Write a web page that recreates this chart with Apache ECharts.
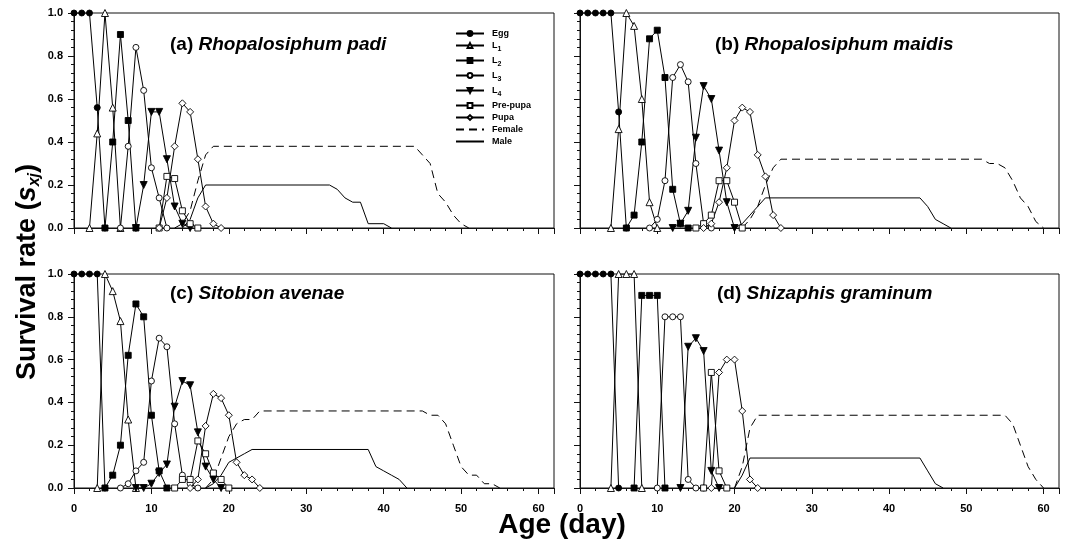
<!DOCTYPE html>
<html><head><meta charset="utf-8">
<script src="https://cdn.jsdelivr.net/npm/echarts@6/dist/echarts.min.js"></script>
<style>html,body{margin:0;padding:0;background:#fff}#c{width:1070px;height:544px}</style>
</head><body><div id="c"></div>
<script>
// ---------- data: [age (day), survival rate] ----------
// (a) Rhopalosiphum padi
const aEgg    = [[0,1],[1,1],[2,1],[3,0.56],[4,0]];
const aL1     = [[2,0],[3,0.44],[4,1],[5,0.56],[6,0]];
const aL2     = [[4,0],[5,0.4],[6,0.9],[7,0.5],[8,0]];
const aL3     = [[6,0],[7,0.38],[8,0.84],[9,0.64],[10,0.28],[11,0.14],[12,0]];
const aL4     = [[8,0],[9,0.2],[10,0.54],[11,0.54],[12,0.32],[13,0.1],[14,0.02],[15,0]];
const aPre    = [[11,0],[12,0.24],[13,0.23],[14,0.08],[15,0.02],[16,0]];
const aPupa   = [[11,0],[12,0.14],[13,0.38],[14,0.58],[15,0.54],[16,0.32],[17,0.1],[18,0.02],[19,0]];
const aFemale = [[13,0],[14,0.02],[15,0.08],[16,0.22],[17,0.34],[18,0.38],[44,0.38],[45,0.34],[46,0.3],[47,0.16],[48,0.12],[49,0.06],[50,0.02],[51,0]];
const aMale   = [[14,0],[15,0.04],[16,0.14],[17,0.2],[33,0.2],[34,0.18],[35,0.14],[36,0.12],[37,0.12],[38,0.02],[40,0.02],[41,0]];
// (b) Rhopalosiphum maidis
const bEgg    = [[0,1],[1,1],[2,1],[3,1],[4,1],[5,0.54],[6,0]];
const bL1     = [[4,0],[5,0.46],[6,1],[7,0.94],[8,0.6],[9,0.12],[10,0]];
const bL2     = [[6,0],[7,0.06],[8,0.4],[9,0.88],[10,0.92],[11,0.7],[12,0.18],[13,0.02],[14,0]];
const bL3     = [[9,0],[10,0.04],[11,0.22],[12,0.7],[13,0.76],[14,0.68],[15,0.3],[16,0.02],[17,0]];
const bL4     = [[12,0],[13,0.02],[14,0.08],[15,0.42],[16,0.66],[17,0.6],[18,0.36],[19,0.12],[20,0]];
const bPre    = [[15,0],[16,0.02],[17,0.06],[18,0.22],[19,0.22],[20,0.12],[21,0]];
const bPupa   = [[16,0],[17,0.02],[18,0.12],[19,0.28],[20,0.5],[21,0.56],[22,0.54],[23,0.34],[24,0.24],[25,0.06],[26,0]];
const bFemale = [[21,0],[22,0.04],[23,0.1],[24,0.2],[25,0.28],[26,0.32],[52,0.32],[53,0.3],[54,0.3],[55,0.28],[56,0.22],[57,0.14],[58,0.1],[59,0.03],[60,0]];
const bMale   = [[20,0],[21,0.02],[22,0.06],[23,0.1],[24,0.14],[44,0.14],[45,0.1],[46,0.04],[47,0.02],[48,0]];
// (c) Sitobion avenae
const cEgg    = [[0,1],[1,1],[2,1],[3,1],[4,0]];
const cL1     = [[3,0],[4,1],[5,0.92],[6,0.78],[7,0.32],[8,0]];
const cL2     = [[4,0],[5,0.06],[6,0.2],[7,0.62],[8,0.86],[9,0.8],[10,0.34],[11,0.08],[12,0]];
const cL3     = [[6,0],[7,0.02],[8,0.08],[9,0.12],[10,0.5],[11,0.7],[12,0.66],[13,0.3],[14,0.06],[15,0.02],[16,0]];
const cL4     = [[8,0],[9,0],[10,0.02],[11,0.07],[12,0.11],[13,0.38],[14,0.5],[15,0.48],[16,0.26],[17,0.1],[18,0.04],[19,0]];
const cPre    = [[13,0],[14,0.04],[15,0.04],[16,0.22],[17,0.16],[18,0.07],[19,0.04],[20,0]];
const cPupa   = [[15,0],[16,0.04],[17,0.29],[18,0.44],[19,0.42],[20,0.34],[21,0.12],[22,0.06],[23,0.04],[24,0]];
const cFemale = [[17,0],[18,0.04],[19,0.14],[20,0.24],[21,0.3],[22,0.32],[23,0.32],[24,0.36],[45,0.36],[46,0.34],[47,0.34],[48,0.3],[49,0.2],[50,0.1],[51,0.06],[52,0.06],[53,0.02],[54,0.02],[55,0]];
const cMale   = [[17,0],[18,0.02],[19,0.06],[20,0.12],[21,0.14],[22,0.16],[23,0.18],[38,0.18],[39,0.1],[40,0.08],[41,0.06],[42,0.04],[43,0]];
// (d) Shizaphis graminum
const dEgg    = [[0,1],[1,1],[2,1],[3,1],[4,1],[5,0]];
const dL1     = [[4,0],[5,1],[6,1],[7,1],[8,0]];
const dL2     = [[7,0],[8,0.9],[9,0.9],[10,0.9],[11,0]];
const dL3     = [[10,0],[11,0.8],[12,0.8],[13,0.8],[14,0.04],[15,0],[16,0]];
const dL4     = [[13,0],[14,0.66],[15,0.7],[16,0.64],[17,0.08],[18,0]];
const dPre    = [[16,0],[17,0.54],[18,0.08],[19,0]];
const dPupa   = [[17,0],[18,0.54],[19,0.6],[20,0.6],[21,0.36],[22,0.04],[23,0]];
const dFemale = [[20,0],[21,0.1],[22,0.28],[23,0.34],[55,0.34],[56,0.3],[57,0.2],[58,0.1],[59,0.04],[60,0]];
const dMale   = [[20,0],[21,0.06],[22,0.14],[44,0.14],[45,0.08],[46,0.02],[47,0]];

const stageNames = ['Egg','L1','L2','L3','L4','Pre-pupa','Pupa','Female','Male'];
const panelLabels = ['(a)','(b)','(c)','(d)'];
const speciesNames = ['Rhopalosiphum padi','Rhopalosiphum maidis','Sitobion avenae','Shizaphis graminum'];
const xTickLabels = [0,10,20,30,40,50,60];
const yTickLabels = ['0.0','0.2','0.4','0.6','0.8','1.0'];
const panelData = [
  [aEgg,aL1,aL2,aL3,aL4,aPre,aPupa,aFemale,aMale],
  [bEgg,bL1,bL2,bL3,bL4,bPre,bPupa,bFemale,bMale],
  [cEgg,cL1,cL2,cL3,cL4,cPre,cPupa,cFemale,cMale],
  [dEgg,dL1,dL2,dL3,dL4,dPre,dPupa,dFemale,dMale]
];

// ---------- styles / layout ----------
const FONT = '"Liberation Sans", Arial, sans-serif';
const stageStyle = [
  {symbol:'circle',   size:6, fill:'#000'},
  {symbol:'triangle', size:7, fill:'#fff'},
  {symbol:'rect',     size:6, fill:'#000'},
  {symbol:'circle',   size:6, fill:'#fff'},
  {symbol:'triangle', size:7, fill:'#000', rotate:180},
  {symbol:'rect',     size:6, fill:'#fff'},
  {symbol:'diamond',  size:7, fill:'#fff'},
  {symbol:'none', dash:[8,5]},
  {symbol:'none'}
];
const rects = [
  {left:74,  top:13,  width:480, height:215},
  {left:580, top:13,  width:479, height:215},
  {left:74,  top:274, width:480, height:214},
  {left:580, top:274, width:479, height:214}
];
const titlePos = [[170,35],[715,35],[170,284],[717,284]];

const grid = [], xAxis = [], yAxis = [], series = [], title = [];
rects.forEach((r,p) => {
  grid.push(Object.assign({show:true, borderColor:'#111', borderWidth:1, backgroundColor:'transparent'}, r));
});
rects.forEach((r,p) => { grid.push(Object.assign({show:false}, r)); });

const xMax = 62;
rects.forEach((r,p) => {
  // minor-tick axis (every 2 days) with labels
  xAxis.push({
    gridIndex:p, type:'value', min:0, max:xMax, interval:2,
    axisLine:{show:true, onZero:false, lineStyle:{color:'#111', width:1}},
    axisTick:{show:true, length:3, lineStyle:{color:'#111', width:1}},
    axisLabel:{show:p>=2, margin:15, color:'#000', fontSize:11, fontWeight:'bold', fontFamily:FONT,
      formatter:v => xTickLabels.indexOf(v) >= 0 ? String(v) : ''},
    splitLine:{show:false}
  });
  yAxis.push({
    gridIndex:p, type:'value', min:0, max:1, interval:0.2,
    axisLine:{show:true, onZero:false, lineStyle:{color:'#111', width:1}},
    axisTick:{show:true, length:6, lineStyle:{color:'#111', width:1}},
    minorTick:{show:true, splitNumber:5, length:3, lineStyle:{color:'#111', width:1}},
    axisLabel:{show:p%2===0, margin:11, color:'#000', fontSize:11, fontWeight:'bold', fontFamily:FONT,
      formatter:v => yTickLabels[Math.round(v*5)]},
    splitLine:{show:false}
  });
});
rects.forEach((r,p) => {
  // major-tick axis (every 10 days)
  xAxis.push({
    gridIndex:p+4, type:'value', min:0, max:xMax, interval:10,
    axisLine:{show:false}, axisLabel:{show:false}, splitLine:{show:false},
    axisTick:{show:true, length:6, lineStyle:{color:'#111', width:1}}
  });
  yAxis.push({gridIndex:p+4, type:'value', min:0, max:1, show:false});
});

panelData.forEach((stages,p) => {
  stages.forEach((data,s) => {
    const st = stageStyle[s];
    series.push({
      type:'line', name:stageNames[s], xAxisIndex:p, yAxisIndex:p, data:data,
      symbol:st.symbol, symbolSize:st.size||0, symbolRotate:st.rotate||0,
      showSymbol:st.symbol!=='none',
      itemStyle:{color:st.fill||'#000', borderColor:'#000', borderWidth:0.9},
      lineStyle:{color:'#000', width:1, type:st.dash||'solid'},
      emphasis:{disabled:true}, animation:false, z:2+(s<7?1:0), clip:true
    });
  });
  title.push({
    text:'{n|' + panelLabels[p] + ' }{i|' + speciesNames[p] + '}',
    left:titlePos[p][0], top:titlePos[p][1], padding:0,
    textStyle:{rich:{
      n:{fontSize:19, fontWeight:'bold', fontFamily:FONT, color:'#000'},
      i:{fontSize:19, fontWeight:'bold', fontStyle:'italic', fontFamily:FONT, color:'#000'}
    }}
  });
});

const hiddenMark = {color:'rgba(0,0,0,0)', borderColor:'rgba(0,0,0,0)', borderWidth:0};
const legendData = stageNames.map((n,s) => stageStyle[s].symbol === 'none' ? {name:n, itemStyle:hiddenMark} : {name:n});

const option = {
  backgroundColor:'#fff',
  animation:false,
  title:title,
  grid:grid, xAxis:xAxis, yAxis:yAxis, series:series,
  legend:{
    data:legendData, orient:'vertical', left:455, top:29, padding:0,
    itemWidth:28, itemHeight:6, itemGap:3, selectedMode:false,
    textStyle:{fontSize:9, fontWeight:'bold', fontFamily:FONT, color:'#000', padding:[0,0,0,3],
      rich:{
        b:{fontSize:9, fontWeight:'bold', fontFamily:FONT, color:'#000'},
        s:{fontSize:7, fontWeight:'bold', fontFamily:FONT, color:'#000', padding:[8,0,0,0]}
      }},
    formatter:name => /^L\d$/.test(name) ? '{b|L}{s|' + name[1] + '}' : '{b|' + name + '}'
  },
  graphic:[
    {type:'text', x:28, y:272, rotation:Math.PI/2,
     style:{text:'{b|Survival rate (}{i|s}{s|xj}{b|)}', align:'center', verticalAlign:'middle',
       rich:{
         b:{fontSize:27, fontWeight:'bold', fontFamily:FONT, color:'#000'},
         i:{fontSize:27, fontWeight:'bold', fontStyle:'italic', fontFamily:FONT, color:'#000'},
         s:{fontSize:16, fontWeight:'bold', fontStyle:'italic', fontFamily:FONT, color:'#000', padding:[14,0,0,0]}
       }}},
    {type:'text', x:562, y:525,
     style:{text:'Age (day)', align:'center', verticalAlign:'middle',
       fontSize:28, fontWeight:'bold', fontFamily:FONT, fill:'#000'}}
  ]
};
const chart = echarts.init(document.getElementById('c'), null, {renderer:'canvas'});
chart.setOption(option);
</script></body></html>
